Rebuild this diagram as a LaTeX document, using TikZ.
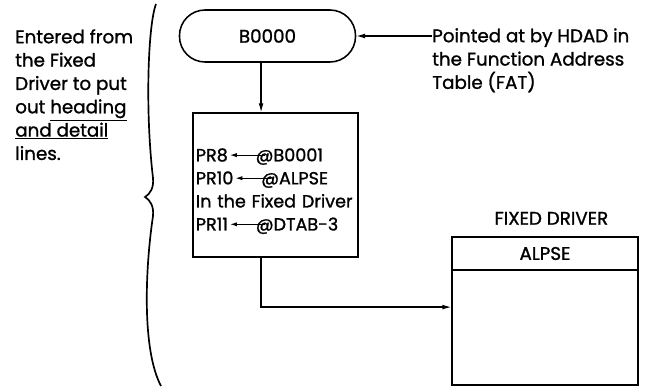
\documentclass[tikz,border=0pt]{standalone}
\usepackage{fontspec}
\setmainfont{Poppins}[RawFeature={embolden=1.2}]
\usetikzlibrary{positioning, arrows.meta}
\tikzset{
  term/.style = {draw, rectangle, rounded corners=0.64cm, outer sep=0pt,
                 minimum width=4.4cm, minimum height=1.3cm, line width=1.1pt,
                 font=\fontsize{13}{16.4}\selectfont},
  blk/.style  = {draw, rectangle, outer sep=0pt, line width=1.1pt,
                 font=\fontsize{13}{16.4}\selectfont},
  ar/.style   = {-{Latex[length=2.4mm, width=1.2mm]}, line width=1.1pt},
  txt/.style  = {align=left, inner sep=0pt, font=\fontsize{13}{16.6}\selectfont},
}
% small load arrow inside the register lines
\newcommand\ldarr{\kern1pt\tikz[baseline=0pt]\draw[-{Latex[length=5pt, width=3pt]}, line width=0.8pt]
  (25pt,4.4pt) -- (0pt,4.4pt);\kern-7pt}
\begin{document}
\begin{tikzpicture}[x=0.025cm, y=-0.025cm]
  \useasboundingbox (0,0) rectangle (654,387);
  % left remark and brace
  \node[txt, anchor=north west] (entry) at (15,29)
    {Entered from\\the Fixed\\Driver to put\\out \underline{heading}\\\underline{and detail}\\lines.};
  \draw[line width=1.2pt] (156,4) .. controls (148,25) and (145,110) .. (153,178)
    .. controls (154,188) and (150,194) .. (145,197)
    .. controls (150,200) and (154,206) .. (153,216)
    .. controls (145,270) and (142,350) .. (161,386);
  % entry point
  \node[term] (start) at (267.5,36) {B0000};
  \node[txt, anchor=north west] (fat) at (432,28)
    {Pointed at by HDAD in\\the Function Address\\Table (FAT)};
  \draw[ar] (fat.west |- start.east) -- (start.east);
  % register setup
  \node[blk, minimum width=4.125cm, minimum height=3.6cm, inner xsep=0.07cm,
        text width=3.98cm, align=left, font=\fontsize{12.5}{16.4}\selectfont] (proc) at (275.5,185)
    {\rule{0pt}{18pt}PR8\ldarr@B0001\\
     PR10\ldarr@ALPSE\\
     In the Fixed Driver\\
     PR11\ldarr@DTAB-3};
  \draw[ar] ([xshift=-0.36cm]proc.north |- start.south) -- ([xshift=-0.36cm]proc.north);
  % fixed driver
  \node[blk, minimum width=4.65cm, minimum height=0.825cm] (alpse) at (545,253.5) {ALPSE};
  \node[blk, minimum width=4.65cm, minimum height=2.875cm, below=0pt of alpse] (drv) {};
  \node[txt, above=0.3cm of alpse, xshift=0.16cm] (drvname) {FIXED DRIVER};
  \draw[ar] ([xshift=-0.36cm]proc.south) |- ([yshift=0.51cm]drv.west);
\end{tikzpicture}
\end{document}
